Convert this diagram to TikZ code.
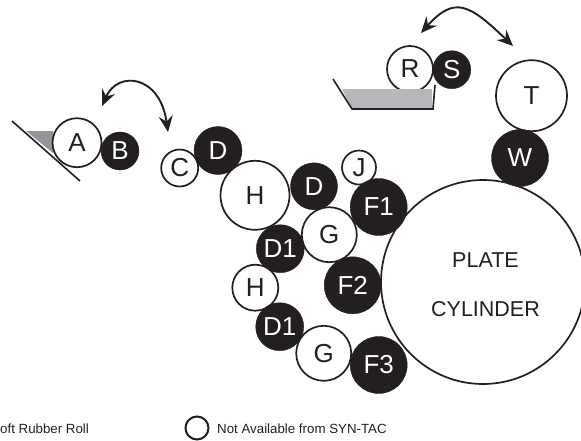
\documentclass[tikz,border=0pt]{standalone}
\usepackage{fontspec}
\setmainfont{Liberation Sans}
\usetikzlibrary{arrows.meta}
\tikzset{
 whiteroll/.style={circle,draw=inkc,fill=white,line width=1.7pt,inner sep=0pt,text=inkc,font=\fontsize{26}{30}\selectfont},
 blackroll/.style={circle,draw=inkc,fill=inkc,line width=0.4pt,inner sep=0pt,text=white,font=\fontsize{26}{30}\selectfont},
 swing/.style={draw=inkc,line width=1.9pt,{Stealth[length=16pt,width=14pt,inset=5.5pt]}-{Stealth[length=16pt,width=14pt,inset=5.5pt]}},
 holder/.style={draw=inkc,line width=1.6pt,line join=miter},
 legend/.style={inner sep=0pt,anchor=west,text=inkc,font=\fontsize{13.3}{15}\selectfont},
 platetext/.style={inner sep=0pt,text=inkc,font=\fontsize{21.5}{25}\selectfont}
}
\definecolor{inkc}{HTML}{231F20}
\definecolor{inkgray}{HTML}{939598}
\definecolor{traygray}{HTML}{B5B7BA}
\begin{document}
\begin{tikzpicture}[x=1pt,y=-1pt]
\useasboundingbox (0,0) rectangle (581,440);
% ink pans
\fill[inkgray] (26,131) -- (53,131) -- (53,153) -- cycle;
\coordinate (bladeA) at (12,121);
\coordinate (bladeB) at (80,181);
\draw[holder] (bladeA) -- (bladeB);
\coordinate (tray1) at (333,79);
\coordinate (tray2) at (352,109);
\coordinate (tray3) at (433,109);
\coordinate (tray4) at (435,85);
% rolls
\node[whiteroll,minimum size=204pt] (plate) at (483,282) {};
\node[platetext] (plate1) at (485.5,260) {PLATE};
\node[platetext] (plate2) at (485.5,309) {CYLINDER};
\node[whiteroll,minimum size=49pt] (A) at (77,142.7) {A};
\node[blackroll,minimum size=38pt] (B) at (120,151) {B};
\node[whiteroll,minimum size=37pt] (C) at (179.7,168) {C};
\node[blackroll,minimum size=48pt] (D) at (218,150.5) {D};
\node[whiteroll,minimum size=69pt] (H) at (255,195.3) {H};
\node[blackroll,minimum size=47pt] (Dd) at (314,186.3) {D};
\node[whiteroll,minimum size=34pt] (J) at (359,167.5) {J};
\node[blackroll,minimum size=57pt] (F1) at (378.7,207) {F1};
\node[whiteroll,minimum size=55pt] (G) at (329.3,234.7) {G};
\node[blackroll,minimum size=48pt] (D1) at (280.3,248.7) {D1};
\node[blackroll,minimum size=57pt] (F2) at (352.7,285.3) {F2};
\node[whiteroll,minimum size=46pt] (Hb) at (255.3,287.7) {H};
\node[blackroll,minimum size=48pt] (D1b) at (279.7,326.7) {D1};
\node[whiteroll,minimum size=55pt] (Gb) at (323.7,353.3) {G};
\node[blackroll,minimum size=57pt] (F3) at (378.7,365) {F3};
\node[whiteroll,minimum size=46pt] (R) at (410,69) {R};
\node[blackroll,minimum size=38pt] (S) at (451.8,69.7) {S};
\node[whiteroll,minimum size=71pt] (T) at (531.5,95.7) {T};
\node[blackroll,minimum size=57pt] (W) at (520,158) {W};
\fill[traygray] (342,89) -- (432,89) -- (432,109) -- (352,109) -- cycle;
\draw[holder] (tray1) -- (tray2) -- (tray3) -- (tray4);
% swing arrows
\coordinate (s1) at (102,106);
\coordinate (e1) at (168,132);
\coordinate (s2) at (421,33);
\coordinate (e2) at (513,46);
\draw[swing] (s1) .. controls (118,70) and (160,75) .. (e1);
\draw[swing] (s2) .. controls (455,-5) and (470,5) .. (e2);
% legend
\node[legend] (leg1) at (0,429) {oft Rubber Roll};
\node[whiteroll,minimum size=23pt,line width=2pt] (legc) at (197,428) {};
\node[legend] (leg2) at (217,429) {Not Available from SYN-TAC};
\end{tikzpicture}
\end{document}
